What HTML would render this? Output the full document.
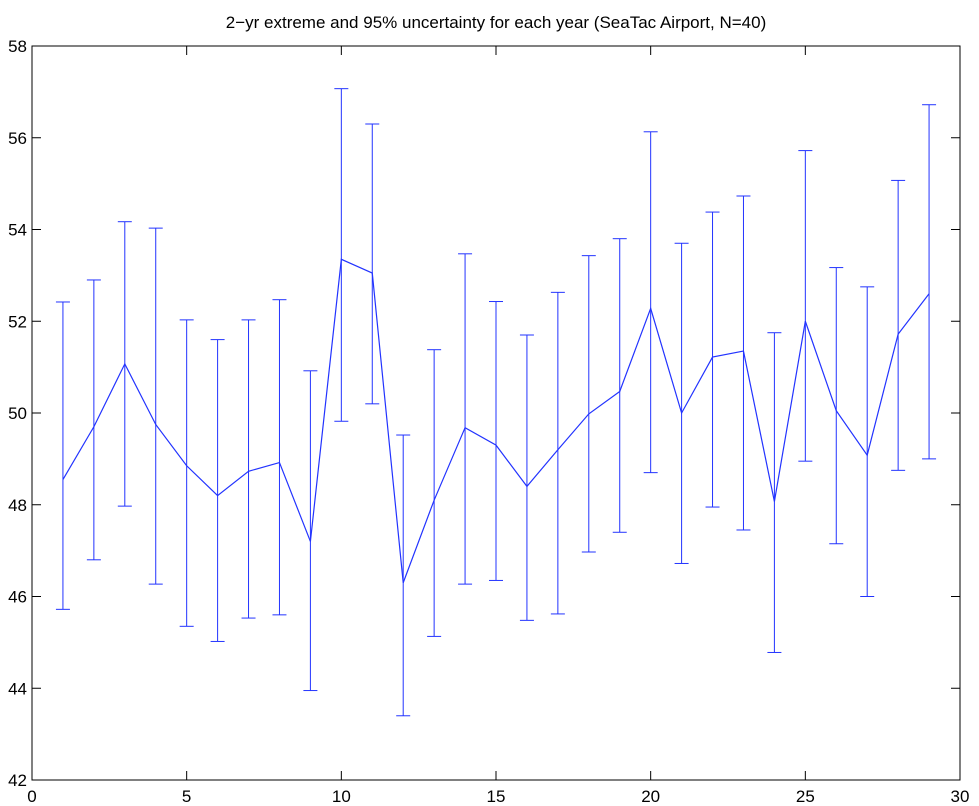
<!DOCTYPE html>
<html><head><meta charset="utf-8"><style>
html,body{margin:0;padding:0;background:#fff;}
svg{display:block;font-family:"Liberation Sans",sans-serif;}
</style></head><body>
<svg id="chart" width="979" height="806" viewBox="0 0 979 806">
<rect width="979" height="806" fill="#fff"/>
<text x="496" y="28" font-size="17" text-anchor="middle">2−yr extreme and 95% uncertainty for each year (SeaTac Airport, N=40)</text>
<g id="axes"></g>
<g id="series"></g>
</svg>
<script>
const years=[1,2,3,4,5,6,7,8,9,10,11,12,13,14,15,16,17,18,19,20,21,22,23,24,25,26,27,28,29];
const centers=[48.55,49.7,51.07,49.75,48.85,48.2,48.73,48.92,47.2,53.35,53.05,46.3,48.1,49.68,49.3,48.4,49.2,49.98,50.47,52.28,50.0,51.22,51.35,48.07,52.0,50.05,49.08,51.72,52.6];
const uppers=[52.42,52.9,54.17,54.03,52.03,51.6,52.03,52.47,50.92,57.07,56.3,49.52,51.38,53.47,52.43,51.7,52.63,53.43,53.8,56.13,53.7,54.38,54.73,51.75,55.72,53.17,52.75,55.07,56.72];
const lowers=[45.72,46.8,47.97,46.27,45.35,45.02,45.53,45.6,43.95,49.82,50.2,43.4,45.13,46.27,46.35,45.48,45.62,46.97,47.4,48.7,46.72,47.95,47.45,44.78,48.95,47.15,46.0,48.75,49.0];
const xTicks=[0,5,10,15,20,25,30];
const yTicks=[42,44,46,48,50,52,54,56,58];

const L=32,R=960,T=46,B=780;
const x=v=>L+(v-0)/(30-0)*(R-L);
const y=v=>B-(v-42)/(58-42)*(B-T);
const NS="http://www.w3.org/2000/svg";
function mk(tag,attrs,parent){const e=document.createElementNS(NS,tag);for(const k in attrs)e.setAttribute(k,attrs[k]);parent.appendChild(e);return e;}
const ax=document.getElementById('axes'),se=document.getElementById('series');
const box=mk('rect',{x:L,y:T,width:R-L,height:B-T,fill:'none',stroke:'#000','stroke-width':1},ax);


xTicks.forEach(t=>{
  const px=x(t);
  const l1=mk('line',{x1:px,x2:px,y1:B,y2:B-9,stroke:'#000'},ax);
  
  
  const l2=mk('line',{x1:px,x2:px,y1:T,y2:T+9,stroke:'#000'},ax);
  
  
  const tx=mk('text',{x:px,y:B+22,'font-size':17,'text-anchor':'middle'},ax);
  tx.textContent=t;
  
  
});
yTicks.forEach(t=>{
  const py=y(t);
  const l1=mk('line',{x1:L,x2:L+9,y1:py,y2:py,stroke:'#000'},ax);
  
  
  const l2=mk('line',{x1:R,x2:R-9,y1:py,y2:py,stroke:'#000'},ax);
  
  
  const tx=mk('text',{x:L-5,y:py+6,'font-size':17,'text-anchor':'end'},ax);
  tx.textContent=t;
  
  
});
const col='#2233ff';
years.forEach((yr,i)=>{
  const px=x(yr);
  const g=mk('g',{},se);
  
  
  mk('line',{x1:px,x2:px,y1:y(uppers[i]),y2:y(lowers[i]),stroke:col},g);
  mk('line',{x1:px-7,x2:px+7,y1:y(uppers[i]),y2:y(uppers[i]),stroke:col},g);
  mk('line',{x1:px-7,x2:px+7,y1:y(lowers[i]),y2:y(lowers[i]),stroke:col},g);
});
const pl=mk('polyline',{points:years.map((yr,i)=>x(yr)+','+y(centers[i])).join(' '),fill:'none',stroke:col,'stroke-width':1.2},se);


</script>
</body></html>
